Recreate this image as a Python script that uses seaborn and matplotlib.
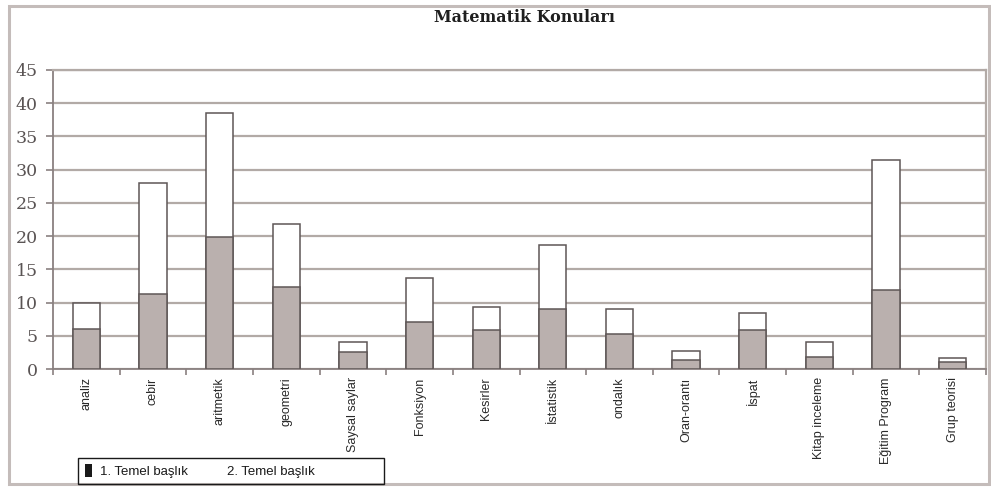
import matplotlib
matplotlib.use("Agg")
import matplotlib.pyplot as plt
from matplotlib.patches import Rectangle, Patch
import pandas as pd
import seaborn as sns

# Konu başlıkları ve her başlık için iki seviyedeki sayılar
konular = ["analiz", "cebir", "aritmetik", "geometri", "Saysal saylar",
           "Fonksiyon", "Kesirler", "İstatistik", "ondalık", "Oran-orantı",
           "İspat", "Kitap inceleme", "Eğitim Program", "Grup teorisi"]
temel_1 = [6.0, 11.3, 19.8, 12.3, 2.5, 7.0, 5.8, 9.0, 5.2, 1.4, 5.9, 1.8, 11.9, 1.1]
temel_2 = [4.0, 16.7, 18.8, 9.5, 1.5, 6.7, 3.6, 9.7, 3.9, 1.3, 2.6, 2.2, 19.5, 0.6]
y_ticks = [0, 5, 10, 15, 20, 25, 30, 35, 40, 45]
baslik = "Matematik Konuları"
seri_adlari = ["1. Temel başlık", "2. Temel başlık"]

df = pd.DataFrame({"konu": konular, "t1": temel_1, "t2": temel_2})
df["toplam"] = df["t1"] + df["t2"]

sns.set_theme(style="white")
sans = ["Liberation Sans", "DejaVu Sans"]
serif = ["DejaVu Serif"]

W, H = 991, 487
fig = plt.figure(figsize=(W / 100, H / 100), dpi=100)
fig.patch.set_facecolor("white")

# plot area in pixel coordinates
x0, x1, y_top, y_bot = 53, 986, 70, 369
ax = fig.add_axes([x0 / W, 1 - y_bot / H, (x1 - x0) / W, (y_bot - y_top) / H])

edge = "#5e5656"
grid_c = "#b2aaa6"
gray_fill = "#bab0ae"

# stacked bars: full total in white, first level in gray on top of it
sns.barplot(data=df, x="konu", y="toplam", order=konular,
            color="white", saturation=1, edgecolor=edge, linewidth=1.1,
            width=0.41, errorbar=None, ax=ax, zorder=2)
sns.barplot(data=df, x="konu", y="t1", order=konular,
            color=gray_fill, saturation=1, edgecolor=edge, linewidth=1.1,
            width=0.41, errorbar=None, ax=ax, zorder=3)

ax.set_xlim(-0.5, len(konular) - 0.5)
ax.set_ylim(0, 45)
ax.set_xlabel("")
ax.set_ylabel("")
ax.set_axisbelow(True)
ax.yaxis.grid(True, color=grid_c, linewidth=1.6)
ax.xaxis.grid(False)

for s in ["left", "bottom"]:
    ax.spines[s].set_color("#8a8080")
    ax.spines[s].set_linewidth(1.3)
for s in ["top", "right"]:
    ax.spines[s].set_color(grid_c)
    ax.spines[s].set_linewidth(1.6)

ax.set_yticks(y_ticks)
ax.set_yticklabels([str(v) for v in y_ticks], family=serif, fontsize=12.5, color="#5a5454")
ax.tick_params(axis="y", which="major", length=5, width=1.2, color="#8a8080",
               direction="out", left=True, pad=6)

ax.set_xticks(range(len(konular)))
ax.set_xticklabels(konular, rotation=90, family=sans, fontsize=9,
                   color="#2a2a2a", va="top", ha="center")
ax.tick_params(axis="x", which="major", length=0, pad=6)
ax.set_xticks([i - 0.5 for i in range(len(konular) + 1)], minor=True)
ax.tick_params(axis="x", which="minor", length=4, width=1.2, color="#8a8080",
               direction="out", bottom=True)

# chart title
fig.text(524 / W, 1 - 18 / H, baslik, ha="center", va="center",
         family=serif, fontweight="bold", fontsize=11.5, color="#1e1e1e")

# outer frame of the chart
fig.add_artist(Rectangle((9 / W, 1 - 484 / H), (989 - 9) / W, (484 - 6) / H,
                         transform=fig.transFigure, fill=False,
                         edgecolor="#c4bcba", linewidth=2.2))

# legend box
fig.add_artist(Rectangle((78 / W, 1 - 484 / H), (384 - 78) / W, (484 - 458) / H,
                         transform=fig.transFigure, fill=False,
                         edgecolor="#1a1a1a", linewidth=1.0, zorder=5))
handles = [Patch(facecolor="#1a1a1a", edgecolor="none"),
           Patch(facecolor="white", edgecolor="none")]
fig.legend(handles, seri_adlari, loc="center left",
           bbox_to_anchor=(85 / W, 1 - 471 / H), ncol=2, frameon=False,
           prop={"family": sans, "size": 9.5}, handlelength=0.55,
           handleheight=1.1, handletextpad=0.55, columnspacing=1.9,
           borderpad=0, borderaxespad=0, labelcolor="#1a1a1a")

fig.savefig("out.png", dpi=100, facecolor="white")
